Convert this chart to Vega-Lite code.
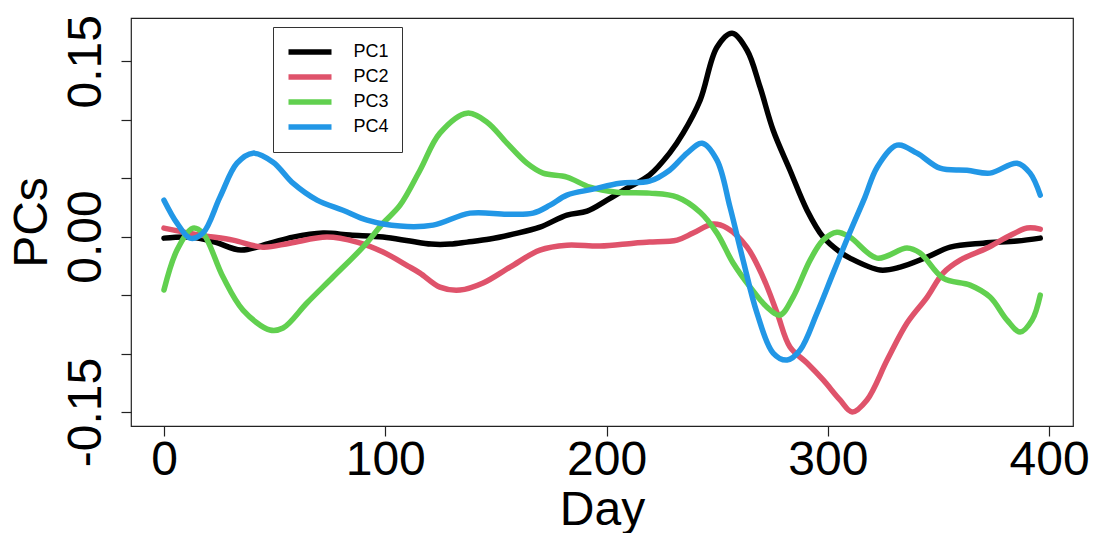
{
  "$schema": "https://vega.github.io/schema/vega-lite/v6.json",
  "autosize": {"type": "none"},
  "padding": {"left": 131, "top": 18, "right": 22, "bottom": 107},
  "width": 942,
  "height": 408,
  "background": "white",
  "config": {
    "font": "Liberation Sans",
    "view": {"stroke": "#222222", "strokeWidth": 1.2}
  },
  "data": {
    "values": [
      {"d": 0, "s": "PC1", "v": -0.0013}, {"d": 11.8, "s": "PC1", "v": -0.0004}, {"d": 23, "s": "PC1", "v": -0.0047}, {"d": 34.8, "s": "PC1", "v": -0.0115}, {"d": 47.9, "s": "PC1", "v": -0.0056}, {"d": 58.3, "s": "PC1", "v": -0.0004}, {"d": 71.9, "s": "PC1", "v": 0.003}, {"d": 84.1, "s": "PC1", "v": 0.0013}, {"d": 99, "s": "PC1", "v": -0.0004}, {"d": 111.2, "s": "PC1", "v": -0.0038}, {"d": 120.7, "s": "PC1", "v": -0.0064}, {"d": 129.3, "s": "PC1", "v": -0.0064}, {"d": 137, "s": "PC1", "v": -0.0047}, {"d": 147.3, "s": "PC1", "v": -0.0021}, {"d": 157.7, "s": "PC1", "v": 0.0021}, {"d": 169.9, "s": "PC1", "v": 0.0081}, {"d": 182.1, "s": "PC1", "v": 0.0184}, {"d": 191.2, "s": "PC1", "v": 0.0218}, {"d": 200.2, "s": "PC1", "v": 0.0312}, {"d": 209.3, "s": "PC1", "v": 0.0415}, {"d": 219.4, "s": "PC1", "v": 0.0526}, {"d": 228.5, "s": "PC1", "v": 0.0714}, {"d": 234.6, "s": "PC1", "v": 0.0885}, {"d": 242.3, "s": "PC1", "v": 0.1167}, {"d": 249.9, "s": "PC1", "v": 0.162}, {"d": 256.7, "s": "PC1", "v": 0.1739}, {"d": 263.5, "s": "PC1", "v": 0.1594}, {"d": 269.4, "s": "PC1", "v": 0.1278}, {"d": 275.3, "s": "PC1", "v": 0.091}, {"d": 282.9, "s": "PC1", "v": 0.0568}, {"d": 290.6, "s": "PC1", "v": 0.0226}, {"d": 297.9, "s": "PC1", "v": -0.0004}, {"d": 305.5, "s": "PC1", "v": -0.0132}, {"d": 310, "s": "PC1", "v": -0.0184}, {"d": 323.6, "s": "PC1", "v": -0.0286}, {"d": 332.7, "s": "PC1", "v": -0.0261}, {"d": 344.9, "s": "PC1", "v": -0.0175}, {"d": 355.3, "s": "PC1", "v": -0.009}, {"d": 370.2, "s": "PC1", "v": -0.0056}, {"d": 385.5, "s": "PC1", "v": -0.0038}, {"d": 396, "s": "PC1", "v": -0.0013},

      {"d": 0, "s": "PC2", "v": 0.0073}, {"d": 16.3, "s": "PC2", "v": 0.0013}, {"d": 31.2, "s": "PC2", "v": -0.003}, {"d": 44.7, "s": "PC2", "v": -0.009}, {"d": 56.9, "s": "PC2", "v": -0.0056}, {"d": 73.7, "s": "PC2", "v": -0.0004}, {"d": 87.2, "s": "PC2", "v": -0.0047}, {"d": 99, "s": "PC2", "v": -0.0132}, {"d": 110.3, "s": "PC2", "v": -0.0252}, {"d": 115.7, "s": "PC2", "v": -0.0312}, {"d": 124.7, "s": "PC2", "v": -0.0432}, {"d": 133.8, "s": "PC2", "v": -0.0457}, {"d": 144.2, "s": "PC2", "v": -0.0397}, {"d": 156.4, "s": "PC2", "v": -0.0261}, {"d": 169.9, "s": "PC2", "v": -0.0115}, {"d": 182.1, "s": "PC2", "v": -0.0073}, {"d": 197.1, "s": "PC2", "v": -0.0081}, {"d": 212.2, "s": "PC2", "v": -0.0056}, {"d": 219.4, "s": "PC2", "v": -0.0047}, {"d": 231.9, "s": "PC2", "v": -0.003}, {"d": 239.1, "s": "PC2", "v": 0.003}, {"d": 248.1, "s": "PC2", "v": 0.0107}, {"d": 254.5, "s": "PC2", "v": 0.0073}, {"d": 263.5, "s": "PC2", "v": -0.009}, {"d": 270.7, "s": "PC2", "v": -0.0346}, {"d": 277.1, "s": "PC2", "v": -0.0654}, {"d": 282.9, "s": "PC2", "v": -0.0944}, {"d": 290.6, "s": "PC2", "v": -0.1081}, {"d": 297.9, "s": "PC2", "v": -0.1226}, {"d": 305.5, "s": "PC2", "v": -0.1397}, {"d": 311, "s": "PC2", "v": -0.15}, {"d": 317.7, "s": "PC2", "v": -0.1397}, {"d": 326.8, "s": "PC2", "v": -0.1056}, {"d": 335.8, "s": "PC2", "v": -0.0739}, {"d": 344.9, "s": "PC2", "v": -0.0517}, {"d": 352.1, "s": "PC2", "v": -0.0312}, {"d": 359.8, "s": "PC2", "v": -0.0201}, {"d": 372, "s": "PC2", "v": -0.0098}, {"d": 381, "s": "PC2", "v": -0.0004}, {"d": 390.1, "s": "PC2", "v": 0.0073}, {"d": 396, "s": "PC2", "v": 0.0064},

      {"d": 0, "s": "PC3", "v": -0.0457}, {"d": 5.9, "s": "PC3", "v": -0.0115}, {"d": 13.1, "s": "PC3", "v": 0.0073}, {"d": 17.6, "s": "PC3", "v": 0.003}, {"d": 26.7, "s": "PC3", "v": -0.0346}, {"d": 35.7, "s": "PC3", "v": -0.0628}, {"d": 47.9, "s": "PC3", "v": -0.0799}, {"d": 53.8, "s": "PC3", "v": -0.0782}, {"d": 64.6, "s": "PC3", "v": -0.0568}, {"d": 76.4, "s": "PC3", "v": -0.0346}, {"d": 89.9, "s": "PC3", "v": -0.009}, {"d": 99, "s": "PC3", "v": 0.0115}, {"d": 106.7, "s": "PC3", "v": 0.0269}, {"d": 115.7, "s": "PC3", "v": 0.0568}, {"d": 124.7, "s": "PC3", "v": 0.0885}, {"d": 137, "s": "PC3", "v": 0.1056}, {"d": 146, "s": "PC3", "v": 0.0979}, {"d": 155, "s": "PC3", "v": 0.0799}, {"d": 164, "s": "PC3", "v": 0.0628}, {"d": 171.3, "s": "PC3", "v": 0.0543}, {"d": 182.1, "s": "PC3", "v": 0.0509}, {"d": 192.5, "s": "PC3", "v": 0.0423}, {"d": 204.7, "s": "PC3", "v": 0.038}, {"d": 219.4, "s": "PC3", "v": 0.0372}, {"d": 231.9, "s": "PC3", "v": 0.0338}, {"d": 242.3, "s": "PC3", "v": 0.0209}, {"d": 249.9, "s": "PC3", "v": 0.003}, {"d": 257.2, "s": "PC3", "v": -0.0226}, {"d": 264.9, "s": "PC3", "v": -0.0432}, {"d": 272.5, "s": "PC3", "v": -0.0603}, {"d": 278.4, "s": "PC3", "v": -0.0671}, {"d": 284.3, "s": "PC3", "v": -0.0517}, {"d": 292, "s": "PC3", "v": -0.0201}, {"d": 297.9, "s": "PC3", "v": -0.003}, {"d": 304.1, "s": "PC3", "v": 0.0038}, {"d": 310, "s": "PC3", "v": -0.0004}, {"d": 322.3, "s": "PC3", "v": -0.0184}, {"d": 335.8, "s": "PC3", "v": -0.0098}, {"d": 341.7, "s": "PC3", "v": -0.0141}, {"d": 352.1, "s": "PC3", "v": -0.0355}, {"d": 364.3, "s": "PC3", "v": -0.0415}, {"d": 373.3, "s": "PC3", "v": -0.0517}, {"d": 381, "s": "PC3", "v": -0.0714}, {"d": 386.9, "s": "PC3", "v": -0.0816}, {"d": 392.3, "s": "PC3", "v": -0.0714}, {"d": 396, "s": "PC3", "v": -0.05},

      {"d": 0, "s": "PC4", "v": 0.0312}, {"d": 5.9, "s": "PC4", "v": 0.0115}, {"d": 11.8, "s": "PC4", "v": -0.0013}, {"d": 17.6, "s": "PC4", "v": 0.003}, {"d": 25.3, "s": "PC4", "v": 0.0338}, {"d": 33, "s": "PC4", "v": 0.0628}, {"d": 40.2, "s": "PC4", "v": 0.0714}, {"d": 49.3, "s": "PC4", "v": 0.0637}, {"d": 58.3, "s": "PC4", "v": 0.0457}, {"d": 69.2, "s": "PC4", "v": 0.0312}, {"d": 80.9, "s": "PC4", "v": 0.0226}, {"d": 91.8, "s": "PC4", "v": 0.0141}, {"d": 106.7, "s": "PC4", "v": 0.009}, {"d": 121.6, "s": "PC4", "v": 0.0098}, {"d": 138.3, "s": "PC4", "v": 0.0201}, {"d": 155, "s": "PC4", "v": 0.0192}, {"d": 166.8, "s": "PC4", "v": 0.0201}, {"d": 174.5, "s": "PC4", "v": 0.0269}, {"d": 182.1, "s": "PC4", "v": 0.0355}, {"d": 193.9, "s": "PC4", "v": 0.0406}, {"d": 206.1, "s": "PC4", "v": 0.0457}, {"d": 219.4, "s": "PC4", "v": 0.0474}, {"d": 228.5, "s": "PC4", "v": 0.0568}, {"d": 236.4, "s": "PC4", "v": 0.0714}, {"d": 243.2, "s": "PC4", "v": 0.0799}, {"d": 249.9, "s": "PC4", "v": 0.0654}, {"d": 255.8, "s": "PC4", "v": 0.0252}, {"d": 261.7, "s": "PC4", "v": -0.0201}, {"d": 268, "s": "PC4", "v": -0.0654}, {"d": 275.3, "s": "PC4", "v": -0.0996}, {"d": 281.6, "s": "PC4", "v": -0.1056}, {"d": 287.5, "s": "PC4", "v": -0.097}, {"d": 295.1, "s": "PC4", "v": -0.0654}, {"d": 302.4, "s": "PC4", "v": -0.0312}, {"d": 310, "s": "PC4", "v": 0.0038}, {"d": 316.8, "s": "PC4", "v": 0.0338}, {"d": 322.3, "s": "PC4", "v": 0.0594}, {"d": 331.3, "s": "PC4", "v": 0.0782}, {"d": 340.3, "s": "PC4", "v": 0.0714}, {"d": 350.7, "s": "PC4", "v": 0.0585}, {"d": 362.9, "s": "PC4", "v": 0.0568}, {"d": 373.3, "s": "PC4", "v": 0.0543}, {"d": 385.5, "s": "PC4", "v": 0.0628}, {"d": 391.4, "s": "PC4", "v": 0.0543}, {"d": 396, "s": "PC4", "v": 0.0355}
    ]
  },
  "mark": {"type": "line", "strokeWidth": 5.5, "interpolate": "catmull-rom", "strokeCap": "round", "strokeJoin": "round", "clip": true},
  "encoding": {
    "x": {
      "field": "d", "type": "quantitative",
      "scale": {"domain": [-14.9, 410.8], "nice": false, "zero": false},
      "axis": {
        "values": [0, 100, 200, 300, 400],
        "title": "Day",
        "domain": false, "grid": false,
        "tickSize": 10, "tickColor": "#222222", "tickWidth": 1.2,
        "labelFontSize": 48, "labelColor": "black", "labelPadding": 0, "labelFont": "Liberation Sans",
        "labelOverlap": false, "labelFlush": false,
        "titleFontSize": 48, "titleColor": "black", "titleFontWeight": "normal", "titleFont": "Liberation Sans", "titlePadding": 2
      }
    },
    "y": {
      "field": "v", "type": "quantitative",
      "scale": {"domain": [-0.162, 0.187], "nice": false, "zero": false},
      "axis": {
        "values": [-0.15, -0.1, -0.05, 0, 0.05, 0.1, 0.15],
        "labelExpr": "datum.value < -0.14 ? '-0.15' : (datum.value > 0.14 ? '0.15' : (abs(datum.value) < 0.001 ? '0.00' : ''))",
        "title": "PCs",
        "domain": false, "grid": false,
        "tickSize": 10, "tickColor": "#222222", "tickWidth": 1.2,
        "labelFontSize": 48, "labelColor": "black", "labelAngle": -90, "labelAlign": "center", "labelBaseline": "alphabetic", "labelPadding": 21, "labelFont": "Liberation Sans",
        "labelOverlap": false, "labelFlush": false,
        "titleFontSize": 48, "titleColor": "black", "titleFontWeight": "normal", "titleFont": "Liberation Sans", "titlePadding": 6
      }
    },
    "color": {
      "field": "s", "type": "nominal",
      "scale": {"domain": ["PC1", "PC2", "PC3", "PC4"], "range": ["#000000", "#DF536B", "#61D04F", "#2297E6"]},
      "legend": {
        "title": null,
        "orient": "none", "legendX": 142, "legendY": 9,
        "symbolType": "stroke", "symbolSize": 1849, "symbolStrokeWidth": 5.5,
        "clipHeight": 25, "rowPadding": 0,
        "labelFontSize": 18, "labelColor": "black", "labelFont": "Liberation Sans", "labelOffset": 19,
        "padding": 12.5, "strokeColor": "#333333", "fillColor": "white", "cornerRadius": 0
      }
    }
  }
}
